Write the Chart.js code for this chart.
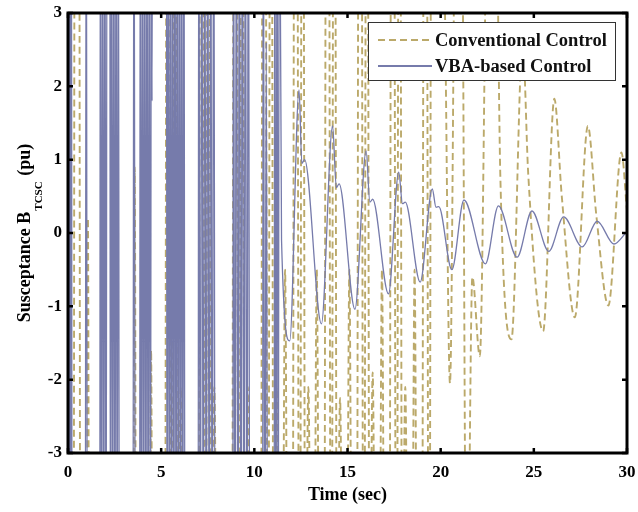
<!DOCTYPE html>
<html><head><meta charset="utf-8">
<script src="https://cdn.jsdelivr.net/npm/chart.js@4.4.1/dist/chart.umd.min.js"></script>
<style>html,body{margin:0;padding:0;background:#fff;}canvas{display:block;}</style>
</head><body>
<canvas id="c" width="638" height="512"></canvas>
<script>
const xTicks = [0, 5, 10, 15, 20, 25, 30];
const yTicks = [-3, -2, -1, 0, 1, 2, 3];
const seriesNames = ['Conventional Control', 'VBA-based Control'];
const xTitle = 'Time (sec)';
const yTitleMain = 'Susceptance B';
const yTitleSub = 'TCSC';
const yTitleUnit = ' (pu)';

const convTime = [
  0.00, 0.30, 0.36, 0.60, 0.66, 1.00, 1.07, 1.14, 3.50, 3.58, 3.66, 4.38, 4.46, 4.54,
  5.20, 5.30, 5.45, 5.55, 5.60, 5.70, 5.78, 5.88, 6.05, 6.22,
  7.00, 7.10, 7.25, 7.35, 7.40, 7.50, 7.58, 7.68, 7.85, 8.02,
  8.80, 8.90, 9.05, 9.15, 9.20, 9.30, 9.38, 9.48, 9.65, 9.82,
  10.35, 10.45, 10.60, 10.70, 10.75, 10.85, 10.93, 11.03, 11.20, 11.37,
  11.50, 11.65, 11.80, 12.05, 12.15, 12.30, 12.40, 12.45, 12.55, 12.63, 12.73, 12.90, 13.07,
  13.20, 13.35, 13.50, 13.75, 13.85, 14.00, 14.10, 14.15, 14.25, 14.33, 14.43, 14.60, 14.77,
  14.95, 15.10, 15.25, 15.50, 15.60, 15.75, 15.85, 15.90, 16.00, 16.08, 16.18, 16.35, 16.52,
  16.70, 16.85, 17.00, 17.25, 17.35, 17.50, 17.60, 17.65, 17.75, 17.83, 17.93, 18.10, 18.27,
  18.45, 18.60, 18.75, 19.00, 19.10, 19.25, 19.35, 19.40, 19.50, 19.60, 20.20,
  20.50, 20.85, 21.10, 21.40, 21.70, 22.10, 22.60, 22.90, 23.20, 23.80, 24.40, 24.70,
  25.50, 26.10, 26.50, 27.20, 27.90, 28.35, 29.00, 29.70, 30.00
];
const convValue = [
  -6, -6, 6, 6, -6, -6, 0.2, -6, -6, 0.9, -6, -6, -1.6, -6,
  -6, 6, 6, -6, -6, 6, 6, -6, -2.1, -6,
  -6, 6, 6, -6, -6, 6, 6, -6, -2.1, -6,
  -6, 6, 6, -6, -6, 6, 6, -6, -2.1, -6,
  -6, 6, 6, -6, -6, 6, 6, -6, -2.1, -6,
  -6, -0.5, -6, -6, 6, 6, -6, -6, 6, 6, -6, -2.1, -6,
  -6, -0.5, -6, -6, 6, 6, -6, -6, 6, 6, -6, -2.25, -6,
  -6, -0.5, -6, -6, 6, 6, -6, -6, 6, 6, -6, -1.9, -6,
  -6, -0.5, -6, -6, 6, 6, -6, -6, 6, 6, -6, -2.1, -6,
  -6, -0.5, -6, -6, 6, 6, -6, -6, 6, 6, 3.5,
  -2.05, 6, 6, -6, -0.6, -1.68, 6, 6, 0.8, -1.45, 2.6, 0.8,
  -1.34, 1.83, 0.5, -1.15, 1.46, 0.25, -0.99, 1.10, 0.30
];

const vbaTime = [
  0.00, 0.02, 0.06, 0.10, 0.14, 0.18, 0.22, 0.92, 0.98, 1.04,
  1.70, 1.74, 1.80, 1.86, 1.92, 1.98, 2.04, 2.10,
  2.24, 2.28, 2.34, 2.40, 2.46, 2.52, 2.58, 2.64, 2.70, 2.76,
  3.48, 3.54, 3.62,
  3.84, 3.88, 3.94, 4.00, 4.06, 4.12, 4.18, 4.24, 4.30, 4.36, 4.42, 4.48, 4.51, 4.54,
  5.28, 5.32, 5.38, 5.44, 5.50, 5.56, 5.62, 5.68, 5.74, 5.80, 5.86, 5.92, 5.98, 6.04, 6.10, 6.16, 6.22, 6.28,
  6.98, 7.02, 7.10, 7.18, 7.26, 7.34, 7.42, 7.50, 7.58, 7.66, 7.74, 7.82, 7.90,
  8.84, 8.88, 8.96, 9.04, 9.12, 9.20, 9.28, 9.36, 9.44, 9.52, 9.60, 9.68, 9.76,
  10.44, 10.48, 10.56, 10.64, 10.72, 11.06, 11.10, 11.16, 11.22, 11.28, 11.34, 11.46,
  11.90, 12.40, 12.55, 12.70, 13.60, 14.20, 14.40, 14.55, 15.40, 16.00, 16.20, 16.35,
  17.20, 17.75, 17.95, 18.10, 18.90, 19.55, 19.75, 19.90, 20.60, 21.25, 22.40, 23.10,
  24.10, 24.90, 25.80, 26.60, 27.60, 28.40, 29.30, 30.00
];
const vbaValue = [
  6, 6, -6, 6, -6, 6, -6, -6, 6, -6,
  -6, 6, -6, 6, -6, 6, -6, 6,
  6, -6, 6, -6, 6, -6, 6, -6, 6, -6,
  -6, 6, -6,
  -6, 6, -6, 6, -6, 6, -6, 6, -6, 6, -6, 6, 1.8, 6,
  6, -6, 6, -6, 6, -6, 6, -6, 6, -6, 6, -6, 6, -6, 6, -6, 6, -6,
  -6, 6, -6, 6, -6, 6, -6, 6, -6, 6, -6, 6, -6,
  -6, 6, -6, 6, -6, 6, -6, 6, -6, 6, -6, 6, -6,
  -6, 6, -6, 2.6, -6, -6, 6, -6, 6, -6, 6, -0.1,
  -1.47, 1.95, 0.95, 1.00, -1.24, 1.46, 0.62, 0.67, -1.04, 1.12, 0.42, 0.46,
  -0.83, 0.83, 0.40, 0.42, -0.67, 0.60, 0.35, 0.36, -0.50, 0.45, -0.42, 0.37,
  -0.33, 0.30, -0.25, 0.22, -0.19, 0.16, -0.15, 0.02
];

const SERIF = "'Liberation Serif', 'DejaVu Serif', serif";
const convColor = '#bba96a';
const vbaColor = '#767bab';

const framePlugin = {
  id: 'frame',
  afterDraw(chart) {
    const ctx = chart.ctx, a = chart.chartArea;
    const xs = chart.scales.x, ys = chart.scales.y;
    ctx.save();
    ctx.strokeStyle = '#000';
    ctx.lineWidth = 3;
    ctx.strokeRect(a.left, a.top, a.right - a.left, a.bottom - a.top);
    ctx.lineWidth = 2.5;
    const tl = 5;
    xTicks.forEach(v => {
      const px = xs.getPixelForValue(v);
      ctx.beginPath();
      ctx.moveTo(px, a.bottom); ctx.lineTo(px, a.bottom - tl);
      ctx.moveTo(px, a.top); ctx.lineTo(px, a.top + tl);
      ctx.stroke();
    });
    yTicks.forEach(v => {
      const py = ys.getPixelForValue(v);
      ctx.beginPath();
      ctx.moveTo(a.left, py); ctx.lineTo(a.left + tl, py);
      ctx.moveTo(a.right, py); ctx.lineTo(a.right - tl, py);
      ctx.stroke();
    });
    // y title with subscript
    const big = 'bold 18px ' + SERIF, small = 'bold 11px ' + SERIF;
    ctx.fillStyle = '#000';
    ctx.font = big;
    const w1 = ctx.measureText(yTitleMain).width;
    const w3 = ctx.measureText(yTitleUnit).width;
    ctx.font = small;
    const w2 = ctx.measureText(yTitleSub).width + 2;
    const total = w1 + w2 + w3;
    ctx.translate(30, 233);
    ctx.rotate(-Math.PI / 2);
    ctx.textBaseline = 'alphabetic';
    ctx.textAlign = 'left';
    let x0 = -total / 2;
    ctx.font = big; ctx.fillText(yTitleMain, x0, 0);
    ctx.font = small; ctx.fillText(yTitleSub, x0 + w1 + 1, 12);
    ctx.font = big; ctx.fillText(yTitleUnit, x0 + w1 + w2, 0);
    ctx.restore();

    // legend
    ctx.save();
    const lx = a.right - 259, ly = a.top + 9, lw = 247, lh = 58;
    ctx.fillStyle = '#fff';
    ctx.fillRect(lx, ly, lw, lh);
    ctx.strokeStyle = '#333';
    ctx.lineWidth = 1;
    ctx.strokeRect(lx + 0.5, ly + 0.5, lw, lh);
    const ds = chart.data.datasets;
    const rows = [ly + 18, ly + 44];
    ds.forEach((d, i) => {
      ctx.beginPath();
      ctx.strokeStyle = d.borderColor;
      ctx.lineWidth = 2;
      ctx.setLineDash(d.borderDash || []);
      ctx.moveTo(lx + 10, rows[i]); ctx.lineTo(lx + 64, rows[i]);
      ctx.stroke();
      ctx.setLineDash([]);
      ctx.fillStyle = '#111';
      ctx.font = 'bold 18.5px ' + SERIF;
      ctx.textBaseline = 'middle';
      ctx.textAlign = 'left';
      ctx.fillText(d.label, lx + 67, rows[i] + 1);
    });
    ctx.restore();
  }
};

new Chart(document.getElementById('c'), {
  type: 'line',
  data: {
    datasets: [
      {
        label: seriesNames[0],
        data: convTime.map((t, i) => ({ x: t, y: convValue[i] })),
        borderColor: convColor, borderWidth: 1.9, borderDash: [7, 4],
        pointRadius: 0, fill: false, cubicInterpolationMode: 'monotone', clip: 0, order: 2
      },
      {
        label: seriesNames[1],
        data: vbaTime.map((t, i) => ({ x: t, y: vbaValue[i] })),
        borderColor: vbaColor, borderWidth: 1.3,
        pointRadius: 0, fill: false, cubicInterpolationMode: 'monotone', clip: 0, order: 1
      }
    ]
  },
  options: {
    responsive: false, animation: false, devicePixelRatio: 1,
    layout: { padding: { top: 13, right: 11, left: 0, bottom: 0 } },
    plugins: { legend: { display: false }, tooltip: { enabled: false } },
    scales: {
      x: {
        type: 'linear', min: 0, max: 30,
        afterBuildTicks: s => { s.ticks = xTicks.map(v => ({ value: v })); },
        afterFit: s => { s.height = 59; s.paddingLeft = 0; s.paddingRight = 0; },
        grid: { display: false, drawTicks: false },
        border: { display: false },
        ticks: { color: '#000', font: { family: SERIF, size: 17, weight: 'bold' }, padding: 9, maxRotation: 0 },
        title: { display: true, text: xTitle, color: '#000', font: { family: SERIF, size: 18, weight: 'bold' }, padding: { top: 0, bottom: 6 } }
      },
      y: {
        type: 'linear', min: -3, max: 3,
        afterBuildTicks: s => { s.ticks = yTicks.map(v => ({ value: v })); },
        afterFit: s => { s.width = 68; s.paddingTop = 0; s.paddingBottom = 0; },
        grid: { display: false, drawTicks: false },
        border: { display: false },
        ticks: { color: '#000', font: { family: SERIF, size: 17, weight: 'bold' }, padding: 6 }
      }
    }
  },
  plugins: [framePlugin]
});
</script>
</body></html>
